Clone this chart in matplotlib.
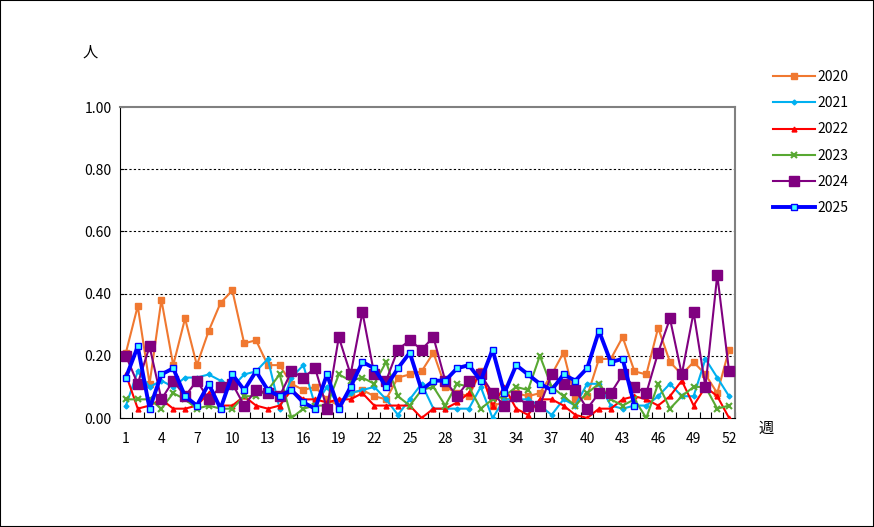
import matplotlib.pyplot as plt
import numpy as np

plt.rcParams['font.family'] = ['Noto Sans CJK JP', 'DejaVu Sans']

# --- data (per week, per 1 reporting unit) ---
weeks = np.arange(1, 53)
y2020 = [0.21, 0.36, 0.11, 0.38, 0.17, 0.32, 0.17, 0.28, 0.37, 0.41,
         0.24, 0.25, 0.17, 0.17, 0.11, 0.09, 0.10, 0.06, 0.04, 0.08,
         0.09, 0.07, 0.06, 0.13, 0.14, 0.15, 0.21, 0.10, 0.08, 0.07,
         0.15, 0.04, 0.05, 0.08, 0.07, 0.08, 0.14, 0.21, 0.06, 0.07,
         0.19, 0.19, 0.26, 0.15, 0.14, 0.29, 0.18, 0.14, 0.18, 0.14,
         0.08, 0.22]
y2021 = [0.04, 0.15, 0.10, 0.12, 0.10, 0.13, 0.13, 0.14, 0.12, 0.10,
         0.14, 0.15, 0.19, 0.03, 0.13, 0.17, 0.04, 0.10, 0.04, 0.08,
         0.09, 0.10, 0.06, 0.01, 0.06, 0.11, 0.03, 0.03, 0.03, 0.03,
         0.10, 0.00, 0.06, 0.06, 0.06, 0.04, 0.01, 0.06, 0.04, 0.11,
         0.11, 0.04, 0.03, 0.04, 0.04, 0.07, 0.11, 0.07, 0.07, 0.19,
         0.13, 0.07]
y2022 = [0.14, 0.03, 0.04, 0.06, 0.03, 0.03, 0.04, 0.08, 0.04, 0.04,
         0.07, 0.04, 0.03, 0.04, 0.09, 0.06, 0.06, 0.05, 0.06, 0.06,
         0.08, 0.04, 0.04, 0.04, 0.04, 0.00, 0.03, 0.03, 0.05, 0.08,
         0.15, 0.04, 0.10, 0.03, 0.01, 0.06, 0.06, 0.04, 0.01, 0.00,
         0.03, 0.03, 0.06, 0.07, 0.06, 0.04, 0.07, 0.12, 0.04, 0.10,
         0.07, 0.00]
y2023 = [0.06, 0.06, 0.06, 0.03, 0.08, 0.06, 0.03, 0.04, 0.03, 0.03,
         0.07, 0.07, 0.09, 0.14, 0.00, 0.03, 0.04, 0.04, 0.14, 0.12,
         0.13, 0.11, 0.18, 0.07, 0.04, 0.09, 0.10, 0.04, 0.11, 0.10,
         0.03, 0.06, 0.07, 0.10, 0.09, 0.20, 0.10, 0.07, 0.04, 0.08,
         0.11, 0.06, 0.04, 0.06, 0.00, 0.11, 0.03, 0.07, 0.10, 0.10,
         0.03, 0.04]
y2024 = [0.20, 0.11, 0.23, 0.06, 0.12, 0.07, 0.12, 0.06, 0.10, 0.11,
         0.04, 0.09, 0.08, 0.07, 0.15, 0.13, 0.16, 0.03, 0.26, 0.14,
         0.34, 0.14, 0.12, 0.22, 0.25, 0.22, 0.26, 0.12, 0.07, 0.12,
         0.14, 0.08, 0.04, 0.07, 0.04, 0.04, 0.14, 0.11, 0.09, 0.03,
         0.08, 0.08, 0.14, 0.10, 0.08, 0.21, 0.32, 0.14, 0.34, 0.10,
         0.46, 0.15]
y2025 = [0.13, 0.23, 0.03, 0.14, 0.16, 0.07, 0.04, 0.11, 0.03, 0.14,
         0.09, 0.15, 0.09, 0.07, 0.09, 0.05, 0.03, 0.14, 0.03, 0.10,
         0.18, 0.16, 0.10, 0.16, 0.21, 0.09, 0.12, 0.12, 0.16, 0.17,
         0.12, 0.22, 0.08, 0.17, 0.14, 0.11, 0.09, 0.14, 0.12, 0.16,
         0.28, 0.18, 0.19, 0.04]

fig = plt.figure(figsize=(8.74, 5.27), dpi=100)
ax = fig.add_axes([120 / 874, 109 / 527, 615 / 874, 311 / 527])

# gridlines
for g in [0.2, 0.4, 0.6, 0.8]:
    ax.axhline(g, color='black', lw=0.8, ls=(0, (2, 2)), zorder=1)

# --- series ---
ax.plot(weeks, y2020, color='#F07830', lw=1.5, marker='s', ms=4.5, label='2020', zorder=3)
ax.plot(weeks, y2021, color='#00B0F0', lw=1.5, marker='D', ms=2.5, label='2021', zorder=3)
ax.plot(weeks, y2022, color='#FF0000', lw=1.5, marker='^', ms=3.5, label='2022', zorder=3)
ax.plot(weeks, y2023, color='#58A832', lw=1.5, marker='x', ms=4.5, mew=1.5, label='2023', zorder=3)
ax.plot(weeks, y2024, color='#800080', lw=1.5, marker='s', ms=7, label='2024', zorder=3)
ax.plot(weeks[:len(y2025)], y2025, color='#0000FF', lw=2.8, marker='s', ms=5,
        mfc='#40FFFF', mec='#0000FF', mew=1.0, label='2025', zorder=4)

ax.set_xlim(0.5, 52.5)
ax.set_ylim(0, 1.0)

# x axis: ticks between categories, labels every 3 weeks
ax.set_xticks(np.arange(0.5, 53, 1))
ax.set_xticklabels([])
ax.set_xticks(np.arange(1, 53, 3), minor=True)
ax.set_xticklabels([str(w) for w in range(1, 53, 3)], minor=True)
ax.tick_params(axis='x', which='major', direction='in', length=4, width=0.8)
ax.tick_params(axis='x', which='minor', length=0, pad=10, labelsize=10)

ax.set_yticks([0, 0.2, 0.4, 0.6, 0.8, 1.0])
ax.set_yticklabels(['0.00', '0.20', '0.40', '0.60', '0.80', '1.00'])
ax.tick_params(axis='y', direction='in', length=3, width=0.8, pad=6, labelsize=10)

ax.spines['left'].set_color('black')
ax.spines['bottom'].set_color('black')
ax.spines['top'].set_color('#808080')
ax.spines['top'].set_linewidth(1.5)
ax.spines['right'].set_color('#808080')
ax.spines['right'].set_linewidth(1.5)

fig.text(90 / 874, 1 - 52 / 527, '人', fontsize=11, ha='center', va='center')
fig.text(766 / 874, 1 - 428 / 527, '週', fontsize=11, ha='center', va='center')

fig.legend(loc='upper left', bbox_to_anchor=(766 / 874, 1 - 63 / 527), frameon=False,
           fontsize=10, handlelength=3, handletextpad=0.2, labelspacing=0.88, borderpad=0)

# outer border
fig.patches.append(plt.Rectangle((0, 0), 1, 1, transform=fig.transFigure, fill=False,
                                 edgecolor='black', lw=1.5))

plt.savefig('out.png', dpi=100)
